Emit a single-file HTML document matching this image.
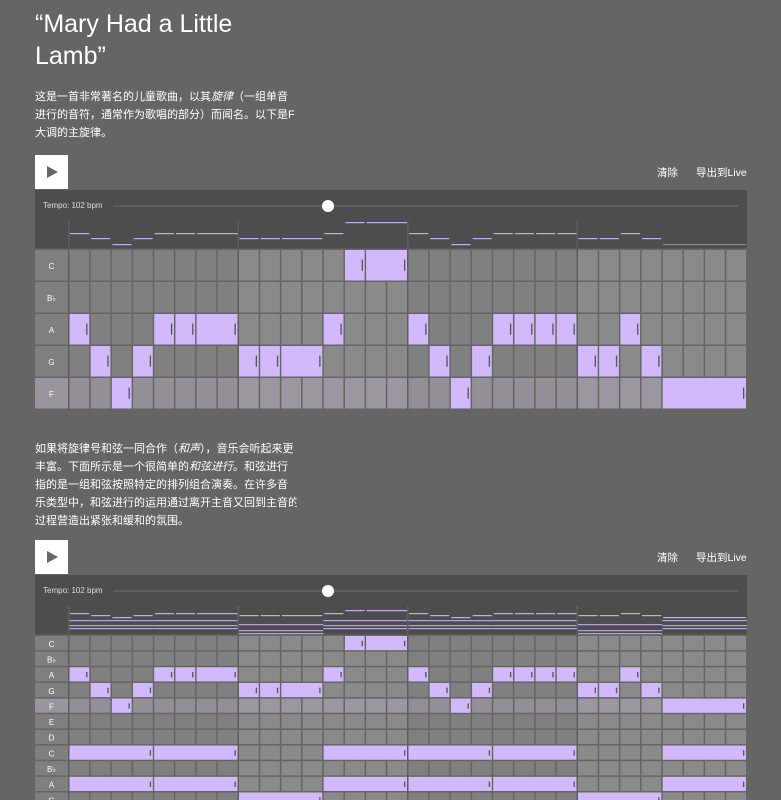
<!DOCTYPE html>
<html><head><meta charset="utf-8"><style>
body{margin:0;width:781px;height:800px;background:#656565;overflow:hidden;position:relative;font-family:"Liberation Sans","Noto Sans CJK SC",sans-serif;color:#fff}
.a{position:absolute}
h1{position:absolute;left:35px;top:8px;margin:0;font-size:25px;font-weight:normal;line-height:32px;width:260px}
.p{position:absolute;left:35px;font-size:11px;line-height:18px;white-space:nowrap;width:262px;overflow:hidden}
.play{position:absolute;left:35px;width:33px;height:34px;background:#fff}
.play:after{content:"";position:absolute;left:12px;top:11px;border-left:11px solid #666;border-top:6px solid transparent;border-bottom:6px solid transparent}
.btn{position:absolute;font-size:10.5px}
.tb{position:absolute;left:35px;width:712px;background:#4d4d4d}
.tl{position:absolute;left:8px;font-size:8px;color:#ddd}
.tr{position:absolute;left:78px;width:625px;height:2px;background:#5e5e5e}
.knob{position:absolute;width:12px;height:12px;border-radius:6px;background:#fff}
</style></head><body>
<h1>“Mary Had a Little Lamb”</h1>
<div class="p" style="top:88px">这是一首非常著名的儿童歌曲，以其<i>旋律</i>（一组单音<br>进行的音符，通常作为歌唱的部分）而闻名。以下是F<br>大调的主旋律。</div>
<div class="play" style="top:155px"></div>
<div class="btn" style="left:657px;top:165px">清除</div><div class="btn" style="left:696px;top:165px">导出到Live</div>
<div class="tb" style="top:190px;height:31px"><div class="tl" style="top:11px">Tempo: 102 bpm</div><div class="tr" style="top:15px"></div><div class="knob" style="left:287px;top:10px"></div></div>
<div class="p" style="top:440px">如果将旋律号和弦一同合作（<i>和声</i>），音乐会听起来更<br>丰富。下面所示是一个很简单的<i>和弦进行</i>。和弦进行<br>指的是一组和弦按照特定的排列组合演奏。在许多音<br>乐类型中，和弦进行的运用通过离开主音又回到主音的<br>过程营造出紧张和缓和的氛围。</div>
<div class="play" style="top:540px"></div>
<div class="btn" style="left:657px;top:550px">清除</div><div class="btn" style="left:696px;top:550px">导出到Live</div>
<div class="tb" style="top:575px;height:31px"><div class="tl" style="top:11px">Tempo: 102 bpm</div><div class="tr" style="top:15px"></div><div class="knob" style="left:287px;top:10px"></div></div>
<svg id="s" class="a" style="left:0;top:0" width="781" height="800"></svg>
<script>
var S=document.getElementById('s'),h='';
var X0=69,CW=678/32,LV='#d2b9fb';
function r(x,y,w,hh,c){h+='<rect x="'+x+'" y="'+y+'" width="'+w+'" height="'+hh+'" fill="'+c+'"/>';}
function t(x,y,s,fs){h+='<text x="'+x+'" y="'+y+'" fill="#fff" font-size="'+fs+'" text-anchor="middle" font-family="Liberation Sans,sans-serif">'+s+'</text>';}
var mel=[['A',1],['G',1],['F',1],['G',1],['A',1],['A',1],['A',2],['G',1],['G',1],['G',2],['A',1],['C',1],['C',2],['A',1],['G',1],['F',1],['G',1],['A',1],['A',1],['A',1],['A',1],['G',1],['G',1],['A',1],['G',1],['F',4]];
function grid(top,hh,rows,rh,notes,hdr){
 r(35,top,712,hh,'#4d4d4d');r(35,top+hh-1,712,1,'#5a5a5a');
 hdr();
 var y=top+hh+1;
 rows.forEach(function(n,i){
  var yy=y+i*rh, hl=(n=='F');
  r(35,yy,33,rh-1.5,hl?'#9a96a0':'#7f7f7f');t(51.5,yy+rh/2+3,n=='Bb'?'B♭':n,8);
  for(var c=0;c<32;c++){var b=Math.floor(c/8)%2;r(X0+c*CW+0.5,yy,CW-1.5,rh-1.5,hl?(b?'#9b97a1':'#928f97'):(b?'#8a8a8a':'#808080'));}
  (notes[i]||[]).forEach(function(nn){var x=X0+nn[0]*CW+0.5,w=nn[1]*CW-1.5;r(x,yy,w,rh-1.5,LV);
   r(x+w-3,yy+rh*0.3,1.3,rh*0.35,'#555');});
 });
 [8,16,24].forEach(function(c){r(X0+c*CW-1,top,1.5,y+rows.length*rh-top,'#5e5e5e');});
 r(X0-1,top,1.5,y+rows.length*rh-top,'#5e5e5e');
}
function notesFor(rows,extra){var o=rows.map(function(){return[];}),c=0;
 mel.forEach(function(m){var i=rows.indexOf(m[0]);o[i].push([c,m[1]]);c+=m[1];});
 (extra||[]).forEach(function(e){o[e[0]].push([e[1],e[2]]);});return o;}
var py1={C:222,A:233,G:238,F:244};
grid(221,28,['C','Bb','A','G','F'],32,notesFor(['C','Bb','A','G','F']),function(){
 var c=0;mel.forEach(function(m){r(X0+c*CW+1,py1[m[0]],m[1]*CW-2,1.2,c>=28?'#8a8494':'#c4acec');c+=m[1];});
});
var rows2=['C','Bb','A','G','F','E','D','C2','Bb2','A2','G2'];
var ex=[];
[[0,4],[4,4],[12,4],[16,4],[20,4],[28,4]].forEach(function(p){ex.push([7,p[0],p[1]]);ex.push([9,p[0],p[1]]);});
ex.push([10,8,4]);ex.push([10,24,4]);
var nt=rows2.map(function(){return[];}),c=0;
mel.forEach(function(m){var i=rows2.indexOf(m[0]);nt[i].push([c,m[1]]);c+=m[1];});
ex.forEach(function(e){nt[e[0]].push([e[1],e[2]]);});
rows2=['C','Bb','A','G','F','E','D','C','Bb','A','G'];
grid(606,29,rows2,15.65,nt,function(){
 var py={C:610,A:613,G:615,F:617},c=0;
 mel.forEach(function(m){r(X0+c*CW+1,py[m[0]],m[1]*CW-2,1.2,'#c4acec');c+=m[1];});
 for(var b=0;b<8;b++){var x=X0+b*4*CW,w=4*CW;var ch=(b==2||b==6);
  var ys=ch?[624,630,633]:[620,625,628];
  ys.forEach(function(y){r(x,y,w,1.2,'#b7a2dc');});}
});
S.innerHTML=h;
</script>
</body></html>
